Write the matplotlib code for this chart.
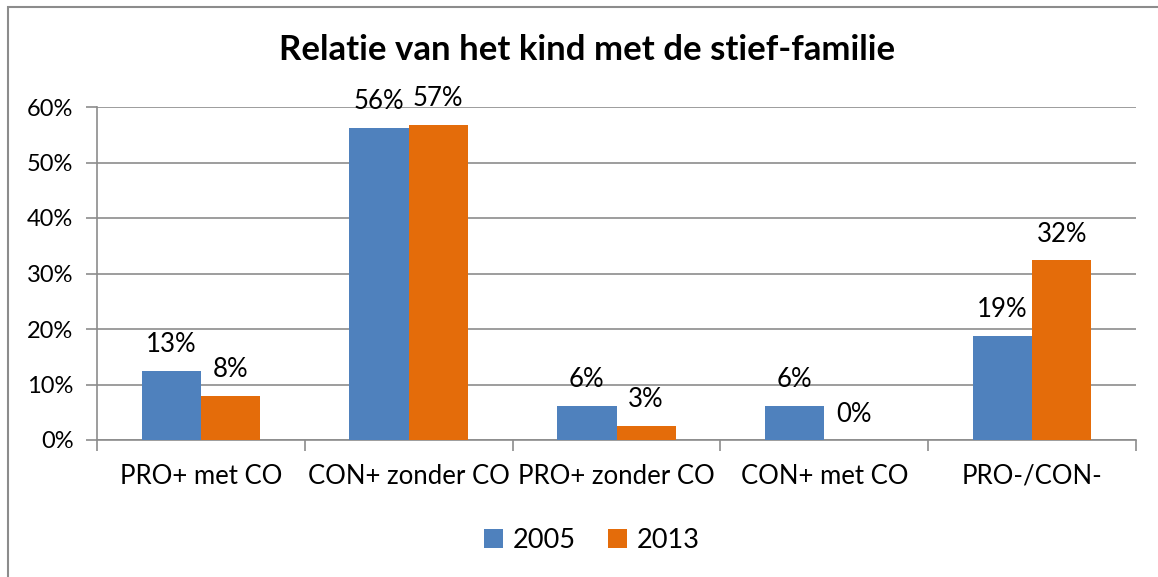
import matplotlib.pyplot as plt
import numpy as np
from matplotlib.patches import Rectangle
from matplotlib.ticker import FixedLocator

plt.rcParams['font.family'] = ['Lato', 'DejaVu Sans']

categories = ['PRO+ met CO', 'CON+ zonder CO', 'PRO+ zonder CO', 'CON+ met CO', 'PRO-/CON-']
values_2005 = [12.5, 56.3, 6.2, 6.2, 18.8]
values_2013 = [8.0, 56.8, 2.6, 0.0, 32.4]
labels_2005 = ['13%', '56%', '6%', '6%', '19%']
labels_2013 = ['8%', '57%', '3%', '0%', '32%']
yticks = [0, 10, 20, 30, 40, 50, 60]

blue = '#4f81bd'
orange = '#e46c0a'
grid_c = '#8c8c8c'
fs = 18.5

fig = plt.figure(figsize=(11.58, 5.77), dpi=100)
ax = fig.add_axes([97 / 1158, 1 - 440 / 577, (1136 - 97) / 1158, (440 - 107) / 577])

x = np.arange(len(categories))
w = 0.285
b1 = ax.bar(x - w / 2, values_2005, w, color=blue, label='2005', zorder=3)
b2 = ax.bar(x + w / 2, values_2013, w, color=orange, label='2013', zorder=3)

for bars, labs in [(b1, labels_2005), (b2, labels_2013)]:
    for bar, lab in zip(bars, labs):
        ax.text(bar.get_x() + bar.get_width() / 2, bar.get_height() + 2.4, lab,
                ha='center', va='bottom', fontsize=fs, color='black')

ax.set_xlim(-0.5, len(categories) - 0.5)
ax.set_ylim(0, 60)
ax.set_yticks(yticks)
ax.set_yticklabels([f'{t}%' for t in yticks])
ax.yaxis.grid(True, color=grid_c, linewidth=1.2, zorder=0)

ax.set_xticks(x)
ax.set_xticklabels(categories)
ax.xaxis.set_minor_locator(FixedLocator(np.arange(-0.5, len(categories), 1)))
ax.tick_params(axis='x', which='major', length=0, pad=17, labelsize=fs)
ax.tick_params(axis='x', which='minor', length=8, color=grid_c, width=1.2)
ax.tick_params(axis='y', length=8, color=grid_c, width=1.2, pad=9, labelsize=17)

for side in ['top', 'right']:
    ax.spines[side].set_visible(False)
for side in ['left', 'bottom']:
    ax.spines[side].set_color(grid_c)
    ax.spines[side].set_linewidth(1.2)

fig.text(587 / 1158, 1 - 50 / 577, 'Relatie van het kind met de stief-familie',
         ha='center', va='center', fontsize=25, fontweight='bold')

fig.legend(loc='center', bbox_to_anchor=(592 / 1158, 1 - 540 / 577), ncol=2, frameon=False,
           fontsize=19.5, handlelength=0.7, handleheight=0.7, handletextpad=0.35,
           columnspacing=1.2)

# outer chart border
fig.patches.append(Rectangle((8 / 1158, -0.01), 1.02, 1 - 7 / 577 + 0.01,
                             transform=fig.transFigure, fill=False,
                             edgecolor='#8c8c8c', linewidth=1.5))

fig.savefig('out.png', dpi=100)
